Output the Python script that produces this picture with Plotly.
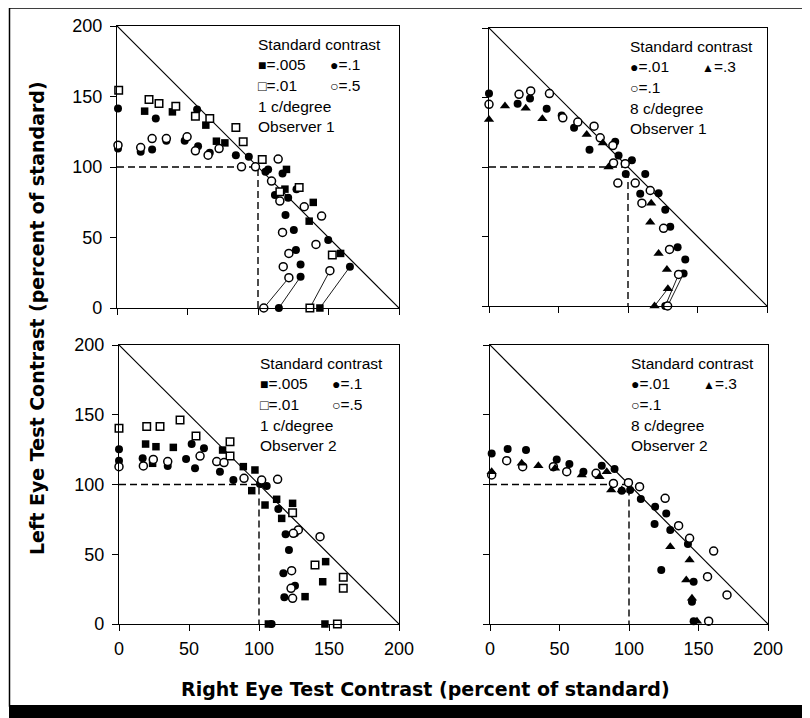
import plotly.graph_objects as go

# ---- data (percent of standard) ----
# 1 c/degree, observer 1
o1_1cd_005_x = [19.6, 39.3, 63.0, 70.5, 76.5, 120.2, 119.1, 139.2, 136.3, 158.6, 143.9]
o1_1cd_005_y = [139.6, 139.1, 129.7, 118.3, 117.1, 98.3, 84.3, 74.9, 61.6, 38.7, 0]
o1_1cd_1_x = [0.7, 0.7, 16.8, 27.5, 24.9, 35.0, 48.0, 56.8, 57.5, 65.8, 84.3, 93.5, 105.3, 107.2,
              117.4, 112.0, 121.4, 127.3, 119.5, 125.4, 126.9, 149.8, 130.2, 130.2, 165.2, 114.8]
o1_1cd_1_y = [141.5, 113.1, 110.8, 134.4, 112.4, 118.6, 118.6, 140.8, 114.8, 110.1, 108.4, 107.2, 96.6, 98.3,
              95.4, 80.1, 78.2, 84.3, 65.9, 55.3, 41.1, 48.2, 30.9, 22.2, 29.3, 0]
o1_1cd_01_x = [1.2, 22.7, 29.8, 41.7, 55.6, 65.8, 84.3, 89.5, 103.0, 115.5, 129.2, 152.7, 136.8]
o1_1cd_01_y = [154.5, 147.8, 145.0, 143.1, 136.0, 134.4, 128.0, 117.9, 105.3, 82.4, 85.5, 37.6, 0]
o1_1cd_5_x = [0.7, 16.8, 24.9, 35.0, 49.7, 55.6, 64.6, 72.4, 88.3, 98.2, 114.3, 109.6, 115.5,
              132.8, 145.1, 117.4, 141.1, 121.9, 117.9, 121.9, 151.0, 104.1]
o1_1cd_5_y = [115.5, 113.8, 120.2, 120.2, 121.4, 111.5, 108.4, 113.1, 100.1, 100.1, 105.6, 90.0, 75.8,
              71.8, 65.2, 53.6, 45.1, 38.7, 29.3, 21.5, 26.5, 0]
o1_1cd_links = [((104.1, 121.9), (0, 21.5)), ((114.8, 130.2), (0, 22.2)),
                ((136.8, 151.0), (0, 26.5)), ((143.9, 165.2), (0, 29.3))]

# 8 c/degree, observer 1
o1_8cd_01_x = [0, 20.6, 29.5, 41.5, 52.3, 61.2, 72.3, 90.8, 93.2, 102.8, 98.4, 112.4, 108.8, 122.0,
               126.8, 130.4, 135.7, 141.2, 140.0, 126.8]
o1_8cd_01_y = [152.8, 145.5, 149.2, 141.9, 137.1, 128.2, 112.5, 118.1, 108.2, 104.8, 94.9, 94.9, 80.7, 81.2,
               69.2, 57.1, 42.2, 33.5, 23.4, 0]
o1_8cd_1_x = [0, 21.6, 30.0, 43.5, 53.1, 63.9, 75.6, 80.0, 89.1, 89.6, 98.0, 92.7, 105.2, 116.0,
              110.0, 125.6, 129.9, 136.4, 128.5]
o1_8cd_1_y = [145.1, 152.3, 154.7, 152.8, 135.4, 132.3, 129.4, 121.0, 115.4, 102.9, 102.4, 88.4, 88.4, 83.1,
              74.0, 55.9, 40.7, 22.7, 0]
o1_8cd_3_x = [0, 11.5, 26.4, 38.4, 70.3, 81.9, 86.0, 116.7, 116.0, 122.0, 128.0, 128.7, 119.1]
o1_8cd_3_y = [134.2, 143.9, 142.2, 134.7, 123.4, 117.3, 100.0, 74.0, 60.2, 37.8, 26.3, 12.5, 0]
o1_8cd_links = [((119.1, 128.7), (0, 12.5)), ((126.8, 136.4), (0, 22.7)), ((128.5, 140.0), (0, 23.4))]

# 1 c/degree, observer 2
o2_1cd_005_x = [19.0, 26.4, 38.8, 74.0, 24.0, 88.8, 97.1, 94.8, 104.3, 112.6, 124.0, 116.2,
                147.6, 145.5, 132.9, 106.7, 147.1]
o2_1cd_005_y = [129.0, 127.1, 126.6, 124.7, 115.2, 112.8, 110.4, 95.6, 85.3, 89.4, 86.5, 75.7,
                44.7, 30.3, 19.6, 0, 0]
o2_1cd_1_x = [0, 0, 16.9, 34.8, 47.9, 54.3, 51.9, 60.7, 72.1, 81.7, 100.7, 105.5, 113.8, 119.0,
              125.7, 121.4, 117.4, 125.7, 118.1, 109.0]
o2_1cd_1_y = [125.2, 117.1, 118.8, 113.3, 118.3, 111.6, 129.0, 125.9, 109.2, 103.2, 100.4, 98.9, 82.4, 64.3,
              65.0, 53.0, 36.3, 27.5, 19.1, 0]
o2_1cd_01_x = [0, 19.8, 29.3, 43.6, 55.0, 79.3, 79.3, 124.0, 140.0, 160.2, 160.2, 156.0]
o2_1cd_01_y = [140.3, 141.5, 141.5, 146.2, 134.8, 130.7, 120.4, 79.8, 42.3, 33.5, 25.6, 0]
o2_1cd_5_x = [0, 17.4, 24.5, 34.8, 57.9, 69.8, 75.0, 89.3, 101.9, 113.3, 128.1, 124.5, 143.6,
              123.3, 122.9, 124.0]
o2_1cd_5_y = [112.8, 113.3, 118.0, 116.4, 120.4, 116.4, 115.7, 104.4, 103.2, 103.7, 67.4, 65.0, 62.6,
              38.2, 25.6, 18.4]

# 8 c/degree, observer 2
o2_8cd_01_x = [1.2, 12.7, 25.9, 48.0, 57.1, 67.2, 80.4, 89.6, 94.8, 100.8, 108.5, 118.8, 126.8,
               118.4, 129.7, 142.4, 123.2, 146.5, 145.3, 146.5]
o2_8cd_01_y = [122.3, 125.4, 124.7, 118.0, 114.7, 109.2, 113.5, 111.1, 95.6, 96.1, 89.6, 84.1, 79.3,
               71.7, 67.4, 57.3, 38.7, 30.3, 16.0, 2]
o2_8cd_1_x = [1.2, 12.0, 23.5, 45.6, 55.2, 76.3, 88.8, 99.6, 107.6, 126.0, 135.7, 143.6, 160.9,
              156.5, 170.5, 157.3]
o2_8cd_1_y = [106.8, 117.1, 112.8, 112.8, 109.2, 108.0, 100.8, 101.3, 98.4, 90.1, 70.5, 61.4, 52.3,
              33.9, 20.8, 2]
o2_8cd_3_x = [1.2, 22.8, 34.8, 46.8, 66.0, 78.8, 84.0, 87.2, 94.8, 129.7, 143.6, 141.2, 145.3, 148.9]
o2_8cd_3_y = [109.2, 115.2, 113.5, 111.6, 106.8, 105.6, 109.2, 96.1, 96.1, 55.4, 45.9, 31.5, 18.4, 2]

# guide lines
diag_x, diag_y = [0, 200], [200, 0]
dash_x, dash_y = [0, 100, 100], [100, 100, 0]
ticks = [0, 50, 100, 150, 200]

# the page body adds an 8px margin, so the figure is 8px smaller and all
# page positions below are shifted by that much
OFF = 8
W, H = 810 - OFF, 718 - OFF


def fx(px):
    return (px - OFF) / W


def fy(py):
    return 1 - (py - OFF) / H


STYLE = {
    'sq': dict(symbol='square', size=7.5, color='black'),
    'dot': dict(symbol='circle', size=8, color='black'),
    'osq': dict(symbol='square', size=7.5, color='white', line=dict(color='black', width=1.5)),
    'odot': dict(symbol='circle', size=8, color='white', line=dict(color='black', width=1.5)),
    'tri': dict(symbol='triangle-up', size=9, color='black'),
}

SQ = '<span style="font-size:14px">■</span>'
DOT = '<span style="font-size:14px">●</span>'
OSQ = '<span style="font-size:14px">□</span>'
ODOT = '<span style="font-size:14px">○</span>'
TRI = '<span style="font-size:12px">▲</span>'

panels = [
    dict(box=(117, 26, 399, 308), xlab=False, ylab=True,
         series=[('dot', o1_1cd_1_x, o1_1cd_1_y), ('sq', o1_1cd_005_x, o1_1cd_005_y),
                 ('osq', o1_1cd_01_x, o1_1cd_01_y), ('odot', o1_1cd_5_x, o1_1cd_5_y)],
         links=o1_1cd_links,
         legend=[(SQ + '=.005', DOT + '=.1'), (OSQ + '=.01', ODOT + '=.5'), '1 c/degree', 'Observer 1']),
    dict(box=(489, 28, 767, 306), xlab=False, ylab=False,
         series=[('dot', o1_8cd_01_x, o1_8cd_01_y), ('odot', o1_8cd_1_x, o1_8cd_1_y),
                 ('tri', o1_8cd_3_x, o1_8cd_3_y)],
         links=o1_8cd_links,
         legend=[(DOT + '=.01', TRI + '=.3'), (ODOT + '=.1', None), '8 c/degree', 'Observer 1']),
    dict(box=(119, 345, 399, 624), xlab=True, ylab=True,
         series=[('dot', o2_1cd_1_x, o2_1cd_1_y), ('sq', o2_1cd_005_x, o2_1cd_005_y),
                 ('osq', o2_1cd_01_x, o2_1cd_01_y), ('odot', o2_1cd_5_x, o2_1cd_5_y)],
         links=[],
         legend=[(SQ + '=.005', DOT + '=.1'), (OSQ + '=.01', ODOT + '=.5'), '1 c/degree', 'Observer 2']),
    dict(box=(490, 345, 768, 624), xlab=True, ylab=False,
         series=[('dot', o2_8cd_01_x, o2_8cd_01_y), ('odot', o2_8cd_1_x, o2_8cd_1_y),
                 ('tri', o2_8cd_3_x, o2_8cd_3_y)],
         links=[],
         legend=[(DOT + '=.01', TRI + '=.3'), (ODOT + '=.1', None), '8 c/degree', 'Observer 2']),
]

FONT = 'Liberation Sans, Arial, Helvetica, sans-serif'
TITLE_FONT = 'DejaVu Sans, Liberation Sans, sans-serif'

fig = go.Figure()
annotations = []
layout_axes = {}

for i, p in enumerate(panels):
    n = '' if i == 0 else str(i + 1)
    xa, ya = 'x' + n, 'y' + n
    x0, y0, x1, y1 = p['box']

    fig.add_trace(go.Scatter(x=diag_x, y=diag_y, mode='lines', line=dict(color='black', width=1.2),
                             xaxis=xa, yaxis=ya, hoverinfo='skip'))
    fig.add_trace(go.Scatter(x=dash_x, y=dash_y, mode='lines',
                             line=dict(color='black', width=1.4, dash='7px,4px'),
                             xaxis=xa, yaxis=ya, hoverinfo='skip'))
    for lx, ly in p['links']:
        fig.add_trace(go.Scatter(x=list(lx), y=list(ly), mode='lines',
                                 line=dict(color='black', width=0.9),
                                 xaxis=xa, yaxis=ya, hoverinfo='skip'))
    for key, sx, sy in p['series']:
        fig.add_trace(go.Scatter(x=sx, y=sy, mode='markers', marker=STYLE[key],
                                 cliponaxis=False, xaxis=xa, yaxis=ya))

    axis = dict(range=[0, 200], tickvals=ticks, showgrid=False, zeroline=False,
                showline=True, mirror=True, linecolor='black', linewidth=1.3,
                ticks='outside', ticklen=6, tickwidth=1.2, tickcolor='black', automargin=False,
                tickfont=dict(family=FONT, size=18, color='black'), fixedrange=True)
    layout_axes['xaxis' + n] = dict(axis, domain=[fx(x0), fx(x1)], anchor=ya,
                                    showticklabels=p['xlab'], ticklabelstandoff=2)
    layout_axes['yaxis' + n] = dict(axis, domain=[fy(y1), fy(y0)], anchor=xa,
                                    showticklabels=p['ylab'], ticklabelstandoff=4)

    # in-panel key
    lx0, ly0, step, col2 = x0 + 139, y0 + 18, 20.7, 72
    rows = ['Standard contrast'] + p['legend']
    for r, row in enumerate(rows):
        cells = row if isinstance(row, tuple) else (row, None)
        for c, txt in enumerate(cells):
            if txt is None:
                continue
            annotations.append(dict(
                text=txt, xref='paper', yref='paper', x=fx(lx0 + c * col2),
                y=fy(ly0 + r * step), xanchor='left', yanchor='middle',
                showarrow=False, font=dict(family=FONT, size=15.5, color='black')))

annotations.append(dict(
    text='<b>Right Eye Test Contrast (percent of standard)</b>', xref='paper', yref='paper',
    x=fx(426), y=fy(689), xanchor='center', yanchor='middle', showarrow=False,
    font=dict(family=TITLE_FONT, size=19, color='black')))
annotations.append(dict(
    text='<b>Left Eye Test Contrast (percent of standard)</b>', xref='paper', yref='paper',
    x=fx(37), y=fy(318), xanchor='center', yanchor='middle', showarrow=False,
    textangle=-90, font=dict(family=TITLE_FONT, size=19, color='black')))

shapes = [
    # outer frame of the figure
    dict(type='rect', xref='paper', yref='paper', x0=fx(9.5), x1=1.02, y0=fy(706), y1=1.0,
         line=dict(color='black', width=1.5)),
    # black band at the bottom
    dict(type='rect', xref='paper', yref='paper', x0=fx(9), x1=1.02, y0=-0.02, y1=fy(705),
         fillcolor='black', line=dict(width=0)),
]

fig.update_layout(
    width=W, height=H, margin=dict(l=0, r=0, t=0, b=0, autoexpand=False),
    paper_bgcolor='white', plot_bgcolor='white', showlegend=False,
    annotations=annotations, shapes=shapes, **layout_axes)

fig.write_html('out.html')
